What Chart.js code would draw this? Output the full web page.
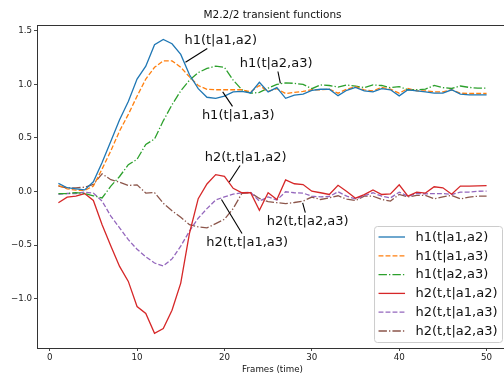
<!DOCTYPE html>
<html>
<head>
<meta charset="utf-8">
<script src="https://cdn.jsdelivr.net/npm/chart.js@4.4.1/dist/chart.umd.min.js"></script>
<style>
  html, body { margin: 0; padding: 0; background: #fff; overflow: hidden; }
  #wrap { width: 512px; height: 376px; }
</style>
</head>
<body>
<div id="wrap"><canvas id="chart" width="512" height="376"></canvas></div>
<script>
// Frame index (time)
const frames = [1,2,3,4,5,6,7,8,9,10,11,12,13,14,15,16,17,18,19,20,21,22,23,24,25,
                26,27,28,29,30,31,32,33,34,35,36,37,38,39,40,41,42,43,44,45,46,47,48,49,50];

// First-order transient functions
const h1_a1a2 = [0.075,0.035,0.025,0.015,0.09,0.27,0.47,0.67,0.84,1.05,1.17,1.37,1.42,1.38,1.28,1.09,0.96,0.88,0.87,0.89,
                 0.93,0.935,0.92,1.02,0.93,0.97,0.87,0.90,0.91,0.945,0.955,0.955,0.895,0.945,0.972,0.94,0.93,0.96,0.95,0.893,
                 0.95,0.94,0.93,0.918,0.918,0.95,0.909,0.903,0.903,0.903];
const h1_a1a3 = [0.056,0.025,0.012,0.01,0.05,0.21,0.38,0.565,0.72,0.89,1.05,1.16,1.22,1.22,1.16,1.07,0.99,0.955,0.95,0.95,
                 0.95,0.95,0.93,0.99,0.935,0.96,0.915,0.925,0.935,0.95,0.95,0.955,0.918,0.955,0.98,0.95,0.94,0.972,0.955,0.918,
                 0.962,0.94,0.94,0.931,0.931,0.95,0.918,0.915,0.915,0.915];
const h1_a2a3 = [-0.02,-0.02,-0.01,-0.02,-0.04,-0.06,0.05,0.14,0.25,0.30,0.44,0.49,0.66,0.81,0.94,1.04,1.11,1.15,1.17,1.16,
                 1.04,0.95,0.918,0.925,0.965,1.0,1.015,1.01,1.0,0.96,0.995,0.99,0.975,0.995,0.985,0.97,0.995,0.99,0.97,0.98,
                 0.95,0.95,0.956,0.99,0.97,0.962,0.985,0.972,0.965,0.965];

// Second-order transient functions
const h2_a1a2 = [-0.106,-0.053,-0.044,-0.019,-0.084,-0.31,-0.51,-0.70,-0.84,-1.075,-1.14,-1.325,-1.28,-1.11,-0.856,-0.39,-0.067,0.07,0.157,0.142,
                 0.03,-0.012,-0.012,-0.175,-0.012,-0.075,0.108,0.072,0.065,0.003,-0.012,-0.028,0.058,0.0,-0.063,-0.03,0.015,-0.028,-0.022,0.062,
                 -0.044,-0.006,-0.015,0.044,0.034,-0.025,0.05,0.05,0.052,0.055];
const h2_a1a3 = [-0.028,-0.019,-0.019,-0.006,-0.015,-0.09,-0.23,-0.34,-0.45,-0.54,-0.61,-0.668,-0.695,-0.63,-0.51,-0.37,-0.25,-0.16,-0.08,-0.05,
                 -0.025,-0.012,-0.008,-0.09,-0.05,-0.08,-0.003,-0.012,-0.015,-0.044,-0.05,-0.047,-0.003,-0.044,-0.069,-0.04,-0.012,-0.044,-0.06,-0.006,
                 -0.044,-0.019,-0.022,-0.02,-0.02,-0.028,-0.006,-0.005,0.002,0.003];
const h2_a2a3 = [0.05,0.034,0.034,0.04,0.066,0.165,0.11,0.087,0.056,0.062,-0.015,-0.01,-0.11,-0.18,-0.24,-0.31,-0.33,-0.34,-0.30,-0.26,
                 -0.16,-0.017,-0.012,-0.065,-0.095,-0.105,-0.113,-0.103,-0.09,-0.052,-0.075,-0.06,-0.04,-0.072,-0.085,-0.044,-0.044,-0.075,-0.09,-0.028,
                 -0.05,-0.037,-0.037,-0.069,-0.05,-0.037,-0.069,-0.053,-0.044,-0.044];

const seriesLabels = ['h1(t|a1,a2)','h1(t|a1,a3)','h1(t|a2,a3)','h2(t,t|a1,a2)','h2(t,t|a1,a3)','h2(t,t|a2,a3)'];
const xTicks = [0,10,20,30,40,50];
const yTicks = [-1.0,-0.5,0.0,0.5,1.0,1.5];

// Callout labels: text anchor and the curve point it refers to (data units)
const callouts = [
  { text: 'h1(t|a1,a2)',   at: [19.58, 1.415],  to: [15.54, 1.207] },
  { text: 'h1(t|a2,a3)',   at: [25.92, 1.200],  to: [26.40, 1.010] },
  { text: 'h1(t|a1,a3)',   at: [21.58, 0.715],  to: [19.80, 0.930] },
  { text: 'h2(t,t|a1,a2)', at: [22.43, 0.322],  to: [20.55, 0.089] },
  { text: 'h2(t,t|a1,a3)', at: [22.60, -0.472], to: [19.66, -0.075] },
  { text: 'h2(t,t|a2,a3)', at: [29.52, -0.276], to: [28.95, -0.107] }
];

const FONT = '"DejaVu Sans", "Liberation Sans", sans-serif';
const DASHED = [4.9, 2.1];
const DASHDOT = [8.4, 2.1, 1.3, 2.1];

function series(label, vals, color, dash) {
  return {
    label,
    data: frames.map((t, i) => ({ x: t, y: vals[i] })),
    borderColor: color,
    backgroundColor: color,
    borderWidth: 1.3,
    borderDash: dash,
    pointRadius: 0,
    pointHoverRadius: 0,
    tension: 0,
    fill: false
  };
}

const datasets = [
  series(seriesLabels[0], h1_a1a2, '#1f77b4', []),
  series(seriesLabels[1], h1_a1a3, '#ff7f0e', DASHED),
  series(seriesLabels[2], h1_a2a3, '#2ca02c', DASHDOT),
  series(seriesLabels[3], h2_a1a2, '#d62728', []),
  series(seriesLabels[4], h2_a1a3, '#9467bd', DASHED),
  series(seriesLabels[5], h2_a2a3, '#8c564b', DASHDOT)
];

// Top/right spines, title and x-axis caption
const framePlugin = {
  id: 'frame',
  afterDraw(chart) {
    const { ctx, chartArea: a } = chart;
    ctx.save();
    ctx.strokeStyle = '#333';
    ctx.lineWidth = 1;
    ctx.beginPath();
    ctx.moveTo(a.left, a.top + 0.5);
    ctx.lineTo(a.right, a.top + 0.5);
    ctx.moveTo(a.right - 0.5, a.top);
    ctx.lineTo(a.right - 0.5, a.bottom);
    ctx.stroke();
    const cx = (a.left + a.right) / 2;
    ctx.fillStyle = '#111';
    ctx.textAlign = 'center';
    ctx.textBaseline = 'alphabetic';
    ctx.font = '10.5px ' + FONT;
    ctx.fillText('M2.2/2 transient functions', cx, 18);
    ctx.font = '8.7px ' + FONT;
    ctx.textBaseline = 'middle';
    ctx.fillText('Frames (time)', cx, 370);
    ctx.restore();
  }
};

// Text callouts with leader lines
const calloutPlugin = {
  id: 'callouts',
  afterDatasetsDraw(chart) {
    const { ctx, scales: { x, y } } = chart;
    ctx.save();
    ctx.font = '13px ' + FONT;
    ctx.textAlign = 'center';
    ctx.textBaseline = 'middle';
    callouts.forEach(c => {
      const tx = x.getPixelForValue(c.at[0]);
      const ty = y.getPixelForValue(c.at[1]);
      const px = x.getPixelForValue(c.to[0]);
      const py = y.getPixelForValue(c.to[1]);
      const hw = ctx.measureText(c.text).width / 2 + 2;
      const hh = 8.5;
      const dx = px - tx, dy = py - ty;
      const s = Math.min(dx !== 0 ? hw / Math.abs(dx) : Infinity, dy !== 0 ? hh / Math.abs(dy) : Infinity);
      ctx.strokeStyle = '#000';
      ctx.lineWidth = 1.1;
      ctx.setLineDash([]);
      ctx.beginPath();
      ctx.moveTo(tx + dx * s, ty + dy * s);
      ctx.lineTo(px, py);
      ctx.stroke();
      ctx.fillStyle = '#111';
      ctx.fillText(c.text, tx, ty + 0.5);
    });
    ctx.restore();
  }
};

// Legend box in the lower-right corner of the plot area
const legendPlugin = {
  id: 'cornerLegend',
  afterDraw(chart) {
    const { ctx, chartArea: a } = chart;
    const ds = chart.data.datasets;
    ctx.save();
    ctx.font = '13px ' + FONT;
    const pad = 4.5, handle = 26.5, gap = 10.5, rowH = 18.8;
    const tw = Math.max(...ds.map(d => ctx.measureText(d.label).width));
    const w = pad + handle + gap + tw + pad;
    const h = 116;
    const right = a.right - 6, bottom = a.bottom - 6;
    const left = right - w, top = bottom - h;
    ctx.beginPath();
    ctx.roundRect(left + 0.5, top + 0.5, w, h, 3);
    ctx.fillStyle = 'rgba(255,255,255,0.8)';
    ctx.fill();
    ctx.strokeStyle = '#cccccc';
    ctx.lineWidth = 1;
    ctx.stroke();
    ds.forEach((d, i) => {
      const cy = top + 11 + i * rowH;
      ctx.strokeStyle = d.borderColor;
      ctx.lineWidth = 1.3;
      ctx.setLineDash(d.borderDash || []);
      ctx.beginPath();
      ctx.moveTo(left + pad, cy);
      ctx.lineTo(left + pad + handle, cy);
      ctx.stroke();
      ctx.setLineDash([]);
      ctx.fillStyle = '#111';
      ctx.textAlign = 'left';
      ctx.textBaseline = 'middle';
      ctx.fillText(d.label, left + pad + handle + gap, cy + 0.5);
    });
    ctx.restore();
  }
};

const axisCommon = {
  type: 'linear',
  grid: { display: true, drawOnChartArea: false, drawTicks: true, tickLength: 3, tickColor: '#333', tickWidth: 0.9 },
  border: { display: true, color: '#333', width: 1 },
  ticks: { color: '#222', font: { family: FONT, size: 8.7 }, padding: 2, autoSkip: false, maxRotation: 0 }
};

new Chart(document.getElementById('chart'), {
  type: 'line',
  data: { datasets },
  options: {
    responsive: false,
    animation: false,
    devicePixelRatio: 1,
    layout: { padding: { top: 25, right: 4, left: 0, bottom: 0 } },
    plugins: { legend: { display: false }, tooltip: { enabled: false }, title: { display: false } },
    scales: {
      x: {
        ...axisCommon,
        min: -1.45,
        max: 52.45,
        afterBuildTicks: s => { s.ticks = xTicks.map(v => ({ value: v })); },
        afterFit: s => { s.height = 28; },
        ticks: { ...axisCommon.ticks, callback: v => String(v) }
      },
      y: {
        ...axisCommon,
        min: -1.462,
        max: 1.555,
        afterBuildTicks: s => { s.ticks = yTicks.map(v => ({ value: v })); },
        afterFit: s => { s.width = 37; },
        ticks: { ...axisCommon.ticks, callback: v => (v < 0 ? '\u2212' : '') + Math.abs(v).toFixed(1) }
      }
    }
  },
  plugins: [framePlugin, calloutPlugin, legendPlugin]
});
</script>
</body>
</html>
